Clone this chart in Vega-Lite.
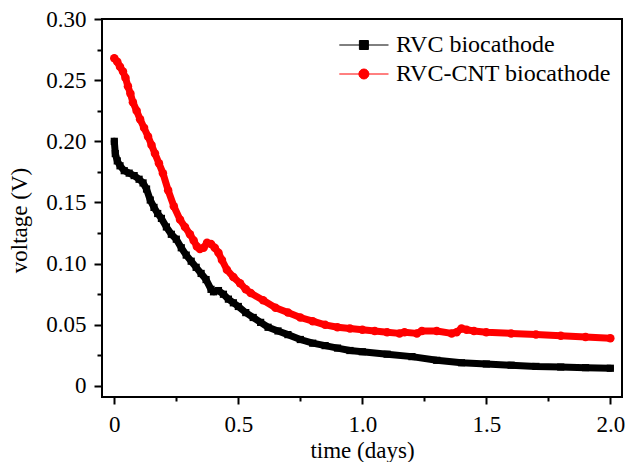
{
  "$schema": "https://vega.github.io/schema/vega-lite/v6.json",
  "width": 520,
  "height": 378,
  "autosize": {"type": "none"},
  "padding": {"left": 102, "top": 19, "right": 3, "bottom": 65},
  "config": {
    "font": "Times New Roman, serif",
    "view": {"stroke": "#000000", "strokeWidth": 2},
    "axis": {"grid": false, "domain": false, "tickColor": "#000000", "tickWidth": 2, "labelColor": "#000000", "titleColor": "#000000", "labelFont": "Times New Roman, serif", "titleFont": "Times New Roman, serif", "titleFontWeight": "normal", "labelFontSize": 23, "titleFontSize": 23},
    "legend": {"labelFont": "Times New Roman, serif"}
  },
  "datasets": {
    "curves": [
      {"series": "RVC biocathode", "t": 0, "v": 0.200},
      {"series": "RVC biocathode", "t": 0.004, "v": 0.190},
      {"series": "RVC biocathode", "t": 0.012, "v": 0.184},
      {"series": "RVC biocathode", "t": 0.023, "v": 0.180},
      {"series": "RVC biocathode", "t": 0.04, "v": 0.176},
      {"series": "RVC biocathode", "t": 0.06, "v": 0.174},
      {"series": "RVC biocathode", "t": 0.08, "v": 0.172},
      {"series": "RVC biocathode", "t": 0.10, "v": 0.169},
      {"series": "RVC biocathode", "t": 0.116, "v": 0.166},
      {"series": "RVC biocathode", "t": 0.13, "v": 0.161},
      {"series": "RVC biocathode", "t": 0.145, "v": 0.152},
      {"series": "RVC biocathode", "t": 0.16, "v": 0.146},
      {"series": "RVC biocathode", "t": 0.175, "v": 0.141},
      {"series": "RVC biocathode", "t": 0.19, "v": 0.137},
      {"series": "RVC biocathode", "t": 0.21, "v": 0.130},
      {"series": "RVC biocathode", "t": 0.23, "v": 0.124},
      {"series": "RVC biocathode", "t": 0.25, "v": 0.120},
      {"series": "RVC biocathode", "t": 0.27, "v": 0.113},
      {"series": "RVC biocathode", "t": 0.29, "v": 0.107},
      {"series": "RVC biocathode", "t": 0.31, "v": 0.102},
      {"series": "RVC biocathode", "t": 0.33, "v": 0.097},
      {"series": "RVC biocathode", "t": 0.35, "v": 0.092},
      {"series": "RVC biocathode", "t": 0.37, "v": 0.087},
      {"series": "RVC biocathode", "t": 0.39, "v": 0.079},
      {"series": "RVC biocathode", "t": 0.40, "v": 0.077},
      {"series": "RVC biocathode", "t": 0.42, "v": 0.078},
      {"series": "RVC biocathode", "t": 0.44, "v": 0.075},
      {"series": "RVC biocathode", "t": 0.46, "v": 0.071},
      {"series": "RVC biocathode", "t": 0.48, "v": 0.068},
      {"series": "RVC biocathode", "t": 0.50, "v": 0.065},
      {"series": "RVC biocathode", "t": 0.53, "v": 0.060},
      {"series": "RVC biocathode", "t": 0.56, "v": 0.056},
      {"series": "RVC biocathode", "t": 0.59, "v": 0.052},
      {"series": "RVC biocathode", "t": 0.62, "v": 0.048},
      {"series": "RVC biocathode", "t": 0.66, "v": 0.045},
      {"series": "RVC biocathode", "t": 0.70, "v": 0.042},
      {"series": "RVC biocathode", "t": 0.75, "v": 0.038},
      {"series": "RVC biocathode", "t": 0.80, "v": 0.035},
      {"series": "RVC biocathode", "t": 0.85, "v": 0.033},
      {"series": "RVC biocathode", "t": 0.90, "v": 0.031},
      {"series": "RVC biocathode", "t": 0.95, "v": 0.029},
      {"series": "RVC biocathode", "t": 1.00, "v": 0.028},
      {"series": "RVC biocathode", "t": 1.10, "v": 0.026},
      {"series": "RVC biocathode", "t": 1.20, "v": 0.024},
      {"series": "RVC biocathode", "t": 1.30, "v": 0.021},
      {"series": "RVC biocathode", "t": 1.40, "v": 0.019},
      {"series": "RVC biocathode", "t": 1.50, "v": 0.018},
      {"series": "RVC biocathode", "t": 1.60, "v": 0.017},
      {"series": "RVC biocathode", "t": 1.70, "v": 0.016},
      {"series": "RVC biocathode", "t": 1.80, "v": 0.0155},
      {"series": "RVC biocathode", "t": 1.90, "v": 0.015},
      {"series": "RVC biocathode", "t": 2.00, "v": 0.0145},
      {"series": "RVC-CNT biocathode", "t": 0, "v": 0.268},
      {"series": "RVC-CNT biocathode", "t": 0.012, "v": 0.265},
      {"series": "RVC-CNT biocathode", "t": 0.023, "v": 0.261},
      {"series": "RVC-CNT biocathode", "t": 0.035, "v": 0.257},
      {"series": "RVC-CNT biocathode", "t": 0.045, "v": 0.252},
      {"series": "RVC-CNT biocathode", "t": 0.055, "v": 0.245},
      {"series": "RVC-CNT biocathode", "t": 0.065, "v": 0.239},
      {"series": "RVC-CNT biocathode", "t": 0.075, "v": 0.232},
      {"series": "RVC-CNT biocathode", "t": 0.09, "v": 0.225},
      {"series": "RVC-CNT biocathode", "t": 0.104, "v": 0.218},
      {"series": "RVC-CNT biocathode", "t": 0.12, "v": 0.211},
      {"series": "RVC-CNT biocathode", "t": 0.136, "v": 0.204},
      {"series": "RVC-CNT biocathode", "t": 0.15, "v": 0.197},
      {"series": "RVC-CNT biocathode", "t": 0.164, "v": 0.190},
      {"series": "RVC-CNT biocathode", "t": 0.18, "v": 0.182},
      {"series": "RVC-CNT biocathode", "t": 0.196, "v": 0.174},
      {"series": "RVC-CNT biocathode", "t": 0.217, "v": 0.160},
      {"series": "RVC-CNT biocathode", "t": 0.24, "v": 0.147},
      {"series": "RVC-CNT biocathode", "t": 0.265, "v": 0.136},
      {"series": "RVC-CNT biocathode", "t": 0.285, "v": 0.130},
      {"series": "RVC-CNT biocathode", "t": 0.305, "v": 0.124},
      {"series": "RVC-CNT biocathode", "t": 0.32, "v": 0.119},
      {"series": "RVC-CNT biocathode", "t": 0.333, "v": 0.114},
      {"series": "RVC-CNT biocathode", "t": 0.345, "v": 0.112},
      {"series": "RVC-CNT biocathode", "t": 0.36, "v": 0.113},
      {"series": "RVC-CNT biocathode", "t": 0.374, "v": 0.117},
      {"series": "RVC-CNT biocathode", "t": 0.39, "v": 0.116},
      {"series": "RVC-CNT biocathode", "t": 0.405, "v": 0.113},
      {"series": "RVC-CNT biocathode", "t": 0.42, "v": 0.109},
      {"series": "RVC-CNT biocathode", "t": 0.434, "v": 0.103},
      {"series": "RVC-CNT biocathode", "t": 0.454, "v": 0.095},
      {"series": "RVC-CNT biocathode", "t": 0.48, "v": 0.089},
      {"series": "RVC-CNT biocathode", "t": 0.507, "v": 0.084},
      {"series": "RVC-CNT biocathode", "t": 0.53, "v": 0.079},
      {"series": "RVC-CNT biocathode", "t": 0.55, "v": 0.076},
      {"series": "RVC-CNT biocathode", "t": 0.60, "v": 0.070},
      {"series": "RVC-CNT biocathode", "t": 0.65, "v": 0.064},
      {"series": "RVC-CNT biocathode", "t": 0.70, "v": 0.060},
      {"series": "RVC-CNT biocathode", "t": 0.75, "v": 0.056},
      {"series": "RVC-CNT biocathode", "t": 0.80, "v": 0.053},
      {"series": "RVC-CNT biocathode", "t": 0.85, "v": 0.050},
      {"series": "RVC-CNT biocathode", "t": 0.90, "v": 0.048},
      {"series": "RVC-CNT biocathode", "t": 0.95, "v": 0.047},
      {"series": "RVC-CNT biocathode", "t": 1.00, "v": 0.046},
      {"series": "RVC-CNT biocathode", "t": 1.05, "v": 0.045},
      {"series": "RVC-CNT biocathode", "t": 1.10, "v": 0.044},
      {"series": "RVC-CNT biocathode", "t": 1.15, "v": 0.043},
      {"series": "RVC-CNT biocathode", "t": 1.17, "v": 0.044},
      {"series": "RVC-CNT biocathode", "t": 1.22, "v": 0.043},
      {"series": "RVC-CNT biocathode", "t": 1.24, "v": 0.045},
      {"series": "RVC-CNT biocathode", "t": 1.30, "v": 0.045},
      {"series": "RVC-CNT biocathode", "t": 1.36, "v": 0.043},
      {"series": "RVC-CNT biocathode", "t": 1.38, "v": 0.044},
      {"series": "RVC-CNT biocathode", "t": 1.40, "v": 0.047},
      {"series": "RVC-CNT biocathode", "t": 1.42, "v": 0.046},
      {"series": "RVC-CNT biocathode", "t": 1.45, "v": 0.045},
      {"series": "RVC-CNT biocathode", "t": 1.50, "v": 0.044},
      {"series": "RVC-CNT biocathode", "t": 1.60, "v": 0.043},
      {"series": "RVC-CNT biocathode", "t": 1.70, "v": 0.042},
      {"series": "RVC-CNT biocathode", "t": 1.80, "v": 0.041},
      {"series": "RVC-CNT biocathode", "t": 1.90, "v": 0.040},
      {"series": "RVC-CNT biocathode", "t": 2.00, "v": 0.039}
    ]
  },
  "data": {"name": "curves"},
  "layer": [
    {
      "mark": {"type": "line", "strokeWidth": 7, "strokeJoin": "round", "strokeCap": "round"},
      "encoding": {
        "x": {
          "field": "t", "type": "quantitative",
          "scale": {"domain": [-0.0496, 2.047], "nice": false, "zero": false},
          "axis": {"orient": "bottom", "values": [0, 0.5, 1, 1.5, 2], "labelExpr": "datum.value == 0 ? '0' : format(datum.value, '.1f')", "labelFont": "Times New Roman, serif", "labelFontSize": 23, "tickSize": 7, "labelPadding": 9, "title": "time (days)", "titleBaseline": "alphabetic", "titleY": 60}
        },
        "y": {
          "field": "v", "type": "quantitative",
          "scale": {"domain": [-0.009, 0.30], "nice": false, "zero": false},
          "axis": {"orient": "left", "values": [0, 0.05, 0.1, 0.15, 0.2, 0.25, 0.3], "labelExpr": "datum.value == 0 ? '0' : format(datum.value, '.2f')", "labelFont": "Times New Roman, serif", "labelFontSize": 23, "tickSize": 8, "labelPadding": 8, "title": "voltage (V)", "titleAngle": -90, "titleAlign": "center", "titleBaseline": "alphabetic", "titleX": -76, "titleY": 201}
        },
        "strokeWidth": {"condition": {"test": "datum.series === 'RVC-CNT biocathode'", "value": 8.5}, "value": 7},
        "color": {
          "field": "series", "type": "nominal",
          "scale": {"domain": ["RVC biocathode", "RVC-CNT biocathode"], "range": ["#000000", "#ff0000"]},
          "legend": {
            "orient": "none", "legendX": 262, "legendY": 13.5, "title": null, "padding": 0,
            "labelFont": "Times New Roman, serif", "labelFontSize": 24, "labelColor": "#000000", "labelLimit": 400,
            "symbolSize": 576, "symbolStrokeWidth": 1, "rowPadding": 4, "labelOffset": 7,
            "encode": {
              "symbols": {
                "update": {
                  "shape": [
                    {"test": "datum.value === 'RVC biocathode'", "value": "M-3.1,0H1M-1.425,-0.375H-0.675V0.375H-1.425Z"},
                    {"value": "M-3.1,0H1M-0.633,0A0.417,0.417 0 1,1 -1.467,0A0.417,0.417 0 1,1 -0.633,0Z"}
                  ],
                  "fill": [
                    {"test": "datum.value === 'RVC biocathode'", "value": "#000000"},
                    {"value": "#ff0000"}
                  ],
                  "stroke": [
                    {"test": "datum.value === 'RVC biocathode'", "value": "#888888"},
                    {"value": "#ff5555"}
                  ],
                  "strokeWidth": {"value": 1},
                  "opacity": {"value": 1}
                }
              }
            }
          }
        }
      }
    },
    {
      "transform": [{"filter": "datum.series === 'RVC biocathode'"}],
      "mark": {"type": "point", "shape": "square", "filled": true, "size": 52, "opacity": 1},
      "encoding": {
        "x": {
          "field": "t", "type": "quantitative",
          "axis": {"orient": "bottom", "values": [0.25, 0.75, 1.25, 1.75], "labels": false, "tickSize": 4, "title": null}
        },
        "y": {
          "field": "v", "type": "quantitative",
          "axis": {"orient": "left", "values": [0.025, 0.075, 0.125, 0.175, 0.225, 0.275], "labels": false, "tickSize": 5, "title": null}
        },
        "color": {"field": "series", "type": "nominal", "legend": null}
      }
    },
    {
      "transform": [{"filter": "datum.series === 'RVC-CNT biocathode'"}],
      "mark": {"type": "point", "shape": "circle", "filled": true, "size": 72, "opacity": 1},
      "encoding": {
        "x": {"field": "t", "type": "quantitative", "axis": null},
        "y": {"field": "v", "type": "quantitative", "axis": null},
        "color": {"field": "series", "type": "nominal", "legend": null}
      }
    }
  ],
  "resolve": {"axis": {"x": "independent", "y": "independent"}}
}
